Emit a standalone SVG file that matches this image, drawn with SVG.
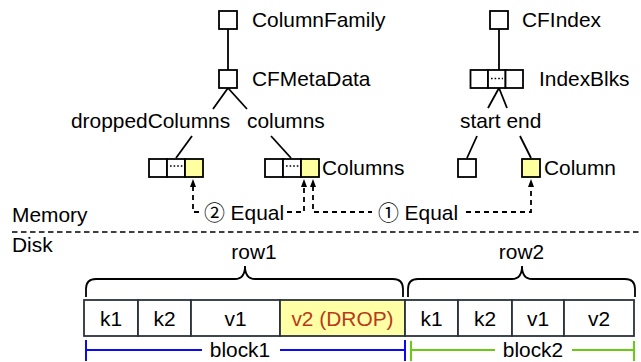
<svg xmlns="http://www.w3.org/2000/svg" width="641" height="362" viewBox="0 0 641 362">
<style>
text{font-family:"Liberation Sans",Arial,"Noto Sans CJK SC",sans-serif;font-size:20.9px;fill:#000}
.mid{text-anchor:middle}
.box{fill:#fff;stroke:#000;stroke-width:1.8}
.hl{fill:#ffffa0;stroke:#000;stroke-width:1.8}
.dots{stroke:#000;stroke-width:1.6;stroke-dasharray:1.6 2;fill:none}
.tree{stroke:#000;stroke-width:1.8;fill:none}
.cell{fill:#fff;stroke:#2a323d;stroke-width:1.8}
.cellhl{fill:#ffffa6;stroke:#2a323d;stroke-width:1.8}
.dash{stroke:#000;stroke-width:1.8;stroke-dasharray:5 4;fill:none}
.sep{stroke:#000;stroke-width:1.6;stroke-dasharray:5.5 3.5;fill:none}
.brace{stroke:#000;stroke-width:1.8;fill:none}
.blue{stroke:#0a0af5;stroke-width:2;fill:none}
.green{stroke:#6acb14;stroke-width:2;fill:none}
.drop{fill:#b8391a}
</style>
<defs>
<marker id="ah" viewBox="0 0 8 6" refX="1" refY="3" markerWidth="8" markerHeight="6" markerUnits="userSpaceOnUse" orient="auto-start-reverse"><path d="M0,0 L8,3 L0,6 z" fill="#000"/></marker>
</defs>

<g id="connectors">
<path class="tree" d="M228,29 V70"/>
<path class="tree" d="M228,88 L213,109 M228,88 L247,109"/>
<path class="tree" d="M192,136 L176,158"/>
<path class="tree" d="M271,136 L291,158"/>
<path class="tree" d="M499,29 V70"/>
<path class="tree" d="M499,88 L488,108 M499,88 L507,108"/>
<path class="tree" d="M477,136 L467,158"/>
<path class="tree" d="M520,136 L531,158"/>
<path class="dash" d="M193,186 V212 H201 M287,212 H304 V186" marker-start="url(#ah)" marker-end="url(#ah)"/>
<path class="dash" d="M313,186 V212 H372 M466,212 H531 V186" marker-start="url(#ah)" marker-end="url(#ah)"/>
</g>

<g id="ColumnFamily"><rect class="box" x="219" y="11" width="18" height="18"/><text x="252" y="27">ColumnFamily</text></g>
<g id="CFMetaData"><rect class="box" x="219" y="70" width="18" height="18"/><text x="252" y="86">CFMetaData</text></g>
<g id="droppedColumnsLabel"><text x="71" y="128">droppedColumns</text></g>
<g id="columnsLabel"><text x="247" y="128">columns</text></g>
<g id="droppedColumnsArray">
<rect class="box" x="149" y="159" width="18" height="18"/>
<rect class="box" x="167" y="159" width="18" height="18"/>
<rect class="hl" x="185" y="159" width="18" height="18"/>
<path class="dots" d="M170,166 H183"/>
</g>
<g id="ColumnsArray">
<rect class="box" x="265" y="159" width="18" height="18"/>
<rect class="box" x="283" y="159" width="18" height="18"/>
<rect class="hl" x="301" y="159" width="18" height="18"/>
<path class="dots" d="M286,166 H299"/>
<text x="322" y="175">Columns</text>
</g>
<g id="CFIndex"><rect class="box" x="490" y="11" width="18" height="18"/><text x="522" y="27">CFIndex</text></g>
<g id="IndexBlks">
<rect class="box" x="470.5" y="70" width="17.5" height="18"/>
<rect class="box" x="488" y="70" width="17.5" height="18"/>
<rect class="box" x="505.5" y="70" width="17.5" height="18"/>
<path class="dots" d="M491,78.5 H503"/>
<text x="539" y="86">IndexBlks</text>
</g>
<g id="startEnd"><text x="460" y="128">start end</text></g>
<g id="start"><rect class="box" x="458" y="159" width="18" height="18"/></g>
<g id="Column"><rect class="hl" x="522" y="159" width="18" height="18"/><text x="544" y="175">Column</text></g>
<g id="equal2"><text class="mid" x="244" y="219.5">② Equal</text></g>
<g id="equal1"><text class="mid" x="418" y="219.5">① Equal</text></g>

<g id="separator">
<text x="12" y="222">Memory</text>
<path class="sep" d="M12,232 H641"/>
<text x="12" y="252">Disk</text>
</g>

<g id="row1">
<path class="brace" d="M86,297 V289 Q86,279 96,279 H235 Q245,279 245,266 Q245,279 255,279 H393 Q403,279 403,289 V297"/>
<text class="mid" x="254" y="259">row1</text>
</g>
<g id="row2">
<path class="brace" d="M408,297 V289 Q408,279 418,279 H512 Q522,279 522,266 Q522,279 532,279 H625 Q635,279 635,289 V297"/>
<text class="mid" x="521.5" y="259">row2</text>
</g>

<g id="cells">
<rect class="cell" x="84" y="300" width="54" height="36"/>
<rect class="cell" x="138" y="300" width="53" height="36"/>
<rect class="cell" x="191" y="300" width="89" height="36"/>
<rect class="cellhl" x="280" y="300" width="125" height="36"/>
<rect class="cell" x="405" y="300" width="53" height="36"/>
<rect class="cell" x="458" y="300" width="54" height="36"/>
<rect class="cell" x="512" y="300" width="52" height="36"/>
<rect class="cell" x="564" y="300" width="70" height="36"/>
<text class="mid" x="111" y="325.5">k1</text>
<text class="mid" x="164.5" y="325.5">k2</text>
<text class="mid" x="235.5" y="325.5">v1</text>
<text class="mid drop" x="342.5" y="325.5">v2 (DROP)</text>
<text class="mid" x="431.5" y="325.5">k1</text>
<text class="mid" x="485" y="325.5">k2</text>
<text class="mid" x="538" y="325.5">v1</text>
<text class="mid" x="599" y="325.5">v2</text>
</g>

<g id="block1">
<path class="blue" d="M86,350 H202 M280,350 H405 M86,340 V361 M405,340 V361"/>
<text class="mid" x="240" y="357">block1</text>
</g>
<g id="block2">
<path class="green" d="M411,350 H495 M572,350 H634 M411,341 V361 M634,341 V361"/>
<text class="mid" x="533" y="357">block2</text>
</g>
</svg>
